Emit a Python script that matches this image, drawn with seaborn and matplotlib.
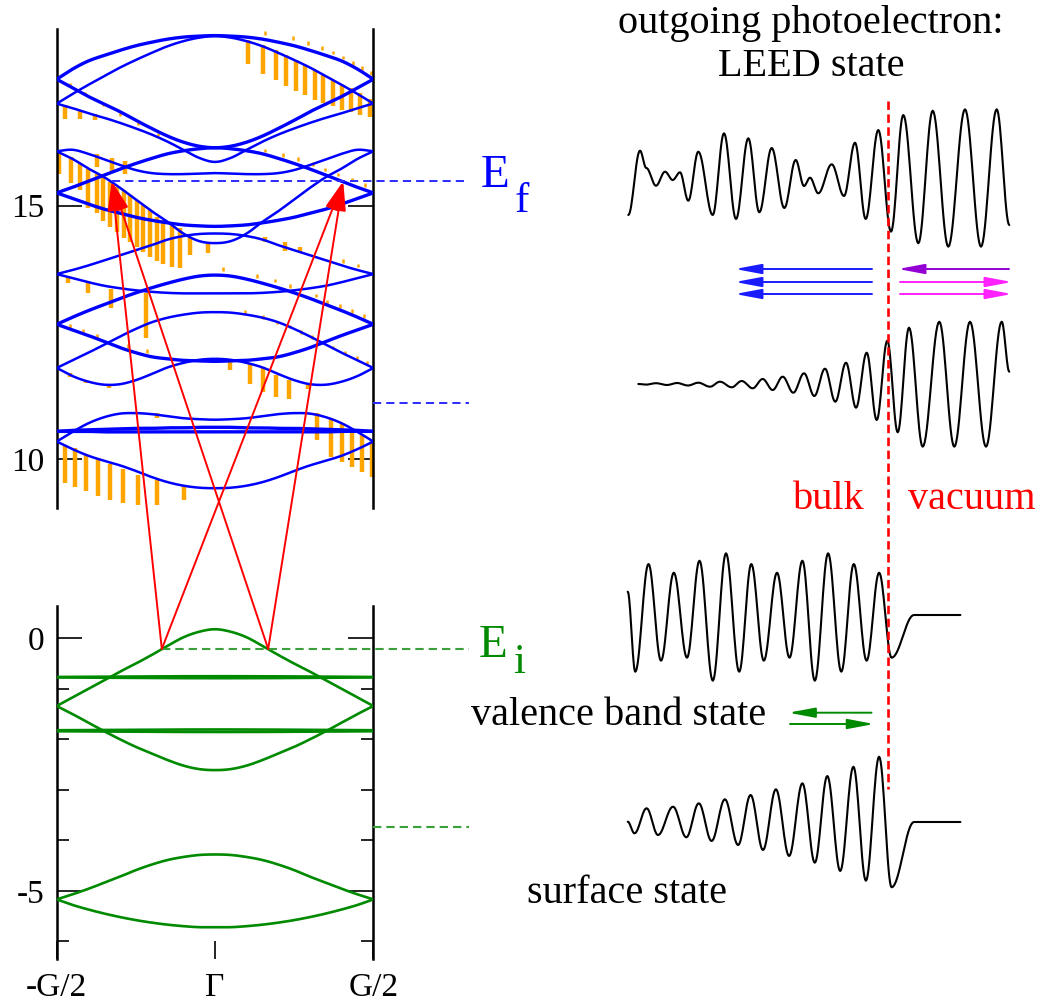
import numpy as np
import pandas as pd
import matplotlib
matplotlib.use("Agg")
import matplotlib.pyplot as plt
from matplotlib.patches import ConnectionPatch
import seaborn as sns

# ---------------------------------------------------------------------------
# Band structure along k_perp (units of G), sampled on half the zone;
# every band is symmetric about Gamma.
# ---------------------------------------------------------------------------
k_half = [0.00, 0.05, 0.10, 0.15, 0.20, 0.25, 0.30, 0.35, 0.40, 0.45, 0.50]

# final-state (unoccupied) bands, eV
band_b1 = [18.35, 18.34, 18.32, 18.28, 18.22, 18.15, 18.06, 17.96, 17.85, 17.69, 17.49]
band_b2 = [18.34, 18.31, 18.24, 18.14, 18.01, 17.87, 17.72, 17.55, 17.38, 17.20, 17.01]
band_b3 = [16.14, 16.17, 16.25, 16.37, 16.52, 16.68, 16.85, 17.00, 17.15, 17.32, 17.49]
band_b4 = [15.86, 15.94, 16.10, 16.26, 16.40, 16.52, 16.63, 16.73, 16.82, 16.92, 17.01]
band_q1 = [15.64, 15.63, 15.62, 15.62, 15.64, 15.70, 15.80, 15.91, 16.02, 16.10, 16.07]
band_q2 = [14.26, 14.30, 14.45, 14.68, 14.89, 15.12, 15.35, 15.56, 15.73, 15.92, 16.07]
band_p1 = [16.14, 16.12, 16.08, 16.02, 15.93, 15.83, 15.72, 15.60, 15.48, 15.36, 15.25]
band_p2 = [14.59, 14.60, 14.62, 14.66, 14.71, 14.77, 14.85, 14.93, 15.03, 15.14, 15.25]
band_r1 = [14.45, 14.44, 14.40, 14.33, 14.22, 14.12, 14.02, 13.92, 13.82, 13.73, 13.65]
band_r2 = [13.27, 13.27, 13.27, 13.28, 13.30, 13.33, 13.37, 13.42, 13.49, 13.57, 13.65]
band_s1 = [13.63, 13.61, 13.55, 13.47, 13.38, 13.28, 13.17, 13.05, 12.93, 12.80, 12.66]
band_s2 = [11.93, 11.94, 11.95, 11.98, 12.02, 12.10, 12.20, 12.32, 12.44, 12.55, 12.66]
band_t1 = [12.90, 12.89, 12.85, 12.79, 12.70, 12.57, 12.42, 12.26, 12.10, 11.95, 11.80]
band_t2 = [11.98, 11.96, 11.90, 11.81, 11.68, 11.56, 11.48, 11.47, 11.53, 11.64, 11.80]
band_u1 = [10.78, 10.79, 10.81, 10.85, 10.89, 10.91, 10.90, 10.83, 10.71, 10.54, 10.35]
band_u2 = [9.43, 9.44, 9.48, 9.55, 9.65, 9.77, 9.88, 9.97, 10.07, 10.20, 10.35]
band_v1 = [10.54, 10.54, 10.54, 10.54, 10.54, 10.54, 10.54, 10.54, 10.55, 10.55, 10.55]
band_v2 = [10.63, 10.63, 10.62, 10.62, 10.61, 10.61, 10.60, 10.59, 10.58, 10.57, 10.55]

# initial-state (valence) bands, eV
band_g1 = [0.18, 0.13, 0.02, -0.15, -0.33, -0.50, -0.66, -0.83, -1.00, -1.17, -1.34]
band_g2 = [-2.61, -2.59, -2.52, -2.41, -2.28, -2.15, -2.00, -1.84, -1.67, -1.50, -1.34]
band_g3a = [-0.750, -0.750, -0.751, -0.752, -0.753, -0.755, -0.757, -0.759, -0.761, -0.763, -0.765]
band_g3b = [-0.790, -0.790, -0.789, -0.788, -0.787, -0.785, -0.783, -0.781, -0.779, -0.777, -0.775]
band_g4a = [-1.805, -1.805, -1.806, -1.807, -1.808, -1.810, -1.812, -1.814, -1.816, -1.818, -1.820]
band_g4b = [-1.855, -1.855, -1.854, -1.853, -1.852, -1.850, -1.848, -1.846, -1.844, -1.842, -1.840]
band_g5 = [-4.28, -4.29, -4.33, -4.39, -4.48, -4.59, -4.72, -4.84, -4.96, -5.07, -5.17]
band_g6 = [-5.72, -5.72, -5.70, -5.67, -5.63, -5.58, -5.52, -5.45, -5.37, -5.28, -5.17]

final_bands = {
    "b1": (band_b1, "thick"), "b2": (band_b2, "thin"), "b3": (band_b3, "thick"),
    "b4": (band_b4, "thin"), "q1": (band_q1, "thin"), "q2": (band_q2, "thin"),
    "p1": (band_p1, "thick"), "p2": (band_p2, "thick"), "r1": (band_r1, "thin"),
    "r2": (band_r2, "thin"), "s1": (band_s1, "thick"), "s2": (band_s2, "thick"),
    "t1": (band_t1, "thin"), "t2": (band_t2, "thin"), "u1": (band_u1, "thin"),
    "u2": (band_u2, "thin"), "v1": (band_v1, "thick"), "v2": (band_v2, "thick"),
}
valence_bands = {
    "g1": band_g1, "g2": band_g2, "g3a": band_g3a, "g3b": band_g3b,
    "g4a": band_g4a, "g4b": band_g4b, "g5": band_g5, "g6": band_g6,
}

# Spectral weight sticks hanging below the final-state bands: k, top, bottom (eV)
bar_k = [0.105, 0.153, 0.192, 0.224, 0.256, 0.284, 0.316, 0.342, 0.372, 0.400, 0.430, 0.458, 0.490,
         -0.474, -0.426, -0.379,
         -0.374, -0.326, -0.284,
         -0.492, -0.455, -0.426, -0.400, -0.374, -0.355, -0.332, -0.311, -0.287, -0.268,
         -0.247, -0.226, -0.205, -0.184, -0.163, -0.137, -0.111, -0.079, -0.021,
         0.158, 0.221, 0.268,
         -0.463, -0.400, -0.328, -0.219,
         0.047, 0.111, 0.153, 0.193, 0.233, 0.293,
         -0.458, -0.407, -0.334, -0.182,
         0.321, 0.365, 0.400, 0.432, 0.463, 0.495,
         -0.474, -0.442, -0.407, -0.371, -0.332, -0.292, -0.242, -0.184, -0.097]
bar_top = [18.26, 18.16, 18.06, 17.96, 17.86, 17.77, 17.67, 17.57, 17.47, 17.37, 17.31, 17.21, 17.11,
           16.98, 16.88, 16.80,
           16.02, 15.93, 15.88,
           16.04, 15.95, 15.84, 15.73, 15.63, 15.57, 15.47, 15.37, 15.31, 15.21,
           15.11, 15.01, 14.91, 14.78, 14.71, 14.65, 14.55, 14.39, 14.29,
           14.39, 14.29, 14.19,
           13.57, 13.47, 13.35, 13.27,
           11.98, 11.89, 11.79, 11.66, 11.56, 11.47,
           11.70, 11.57, 11.48, 10.91,
           10.91, 10.81, 10.71, 10.62, 10.48, 10.38,
           10.29, 10.22, 10.09, 10.00, 9.91, 9.81, 9.70, 9.60, 9.50]
bar_bottom = [17.80, 17.60, 17.47, 17.35, 17.26, 17.18, 17.09, 17.02, 16.96, 16.88, 16.85, 16.78, 16.75,
              16.71, 16.71, 16.68,
              15.77, 15.67, 15.62,
              15.62, 15.45, 15.30, 14.96, 14.85, 14.70, 14.58, 14.47, 14.37, 14.28,
              14.18, 14.08, 13.98, 13.90, 13.84, 13.79, 13.77, 14.03, 14.06,
              14.29, 14.10, 14.09,
              13.48, 13.27, 12.98, 12.39,
              11.76, 11.49, 11.32, 11.22, 11.18, 11.39,
              11.63, 11.50, 11.41, 10.82,
              10.38, 10.05, 9.94, 9.84, 9.75, 9.65,
              9.53, 9.45, 9.37, 9.28, 9.20, 9.14, 9.10, 9.10, 9.20]

# Very small weights, drawn as short stubs at the band energy
stub_k = [0.158, 0.247, 0.295, 0.337, 0.374, 0.405, 0.435, 0.463, 0.492,
          -0.458, -0.410, -0.353, -0.301, -0.243, -0.180,
          0.158, 0.216, 0.263, 0.310, 0.347, 0.389, 0.432, 0.474,
          0.405, 0.453,
          -0.458, -0.416, -0.374, -0.274, -0.216,
          0.026, 0.132, 0.190, 0.237, 0.319, 0.355, 0.395, 0.432, 0.471,
          0.095, 0.153, 0.195, 0.237, 0.271, 0.305, 0.374, 0.411, 0.448, 0.481]
stub_e = [18.39, 18.29, 18.19, 18.09, 18.00, 17.90, 17.80, 17.70, 17.60,
          17.37, 17.19, 16.98, 16.79, 16.60, 16.39,
          16.07, 15.98, 15.90, 15.80, 15.70, 15.60, 15.50, 15.39,
          13.89, 13.80,
          12.61, 12.51, 12.42, 12.22, 12.12,
          13.73, 13.60, 13.51, 13.40, 13.21, 13.09, 13.01, 12.91, 12.81,
          12.89, 12.79, 12.68, 12.60, 12.49, 12.39, 12.19, 12.09, 11.98, 11.88]

# Direct transitions: initial and final energies and k points
e_initial = -0.21
e_final = 15.48
k_initial = [-0.168, 0.168]
k_final = [-0.326, 0.405]
e_leed_level = 11.10
e_surface_level = -3.74

# ---------------------------------------------------------------------------
# Schematic wave functions: extrema positions z (relative to the surface)
# and amplitudes a.
# ---------------------------------------------------------------------------
leed_z = [-259.7, -248.0, -241.7, -232.0, -223.0, -215.3, -208.0, -199.7, -189.7, -175.3,
          -164.0, -152.0, -139.7, -128.7, -116.3, -103.7, -92.3, -84.0, -78.0, -69.7,
          -56.3, -44.0, -33.0, -22.3, -9.7, 3.0, 15.3, 30.3, 44.7, 60.3,
          77.0, 93.0, 108.7, 121.3]
leed_a = [-37.0, 27.3, 10.0, -7.7, 6.3, -2.0, 5.7, -22.7, 26.3, -37.0,
          44.7, -41.0, 39.7, -34.3, 30.0, -30.0, 18.0, -8.0, 0.3, -15.3,
          13.7, -18.0, 35.3, -41.0, 48.0, -53.7, 63.0, -65.3, 67.3, -68.7,
          68.7, -68.7, 68.7, -47.0]

wave_z = [-249.7, -242.0, -232.0, -221.0, -211.0, -200.0, -189.7, -178.0, -168.0, -156.3,
          -146.3, -135.3, -125.3, -115.3, -105.3, -94.7, -84.0, -73.7, -63.0, -52.7,
          -42.0, -32.0, -21.3, -11.3, -0.7, 9.7, 21.0, 34.7, 51.3, 66.3,
          82.0, 98.0, 113.7, 121.3]
wave_a = [0.0, -0.6, 0.8, -1.0, 1.0, -1.5, 1.3, -2.7, 2.3, -3.3,
          3.0, -4.3, 5.0, -6.0, 7.3, -8.7, 10.7, -12.0, 15.3, -17.7,
          21.3, -23.7, 31.3, -36.0, 43.3, -48.3, 56.3, -62.7, 62.3, -62.7,
          62.3, -62.7, 62.3, 12.3]

valence_z = [-260.3, -252.7, -239.5, -227.0, -214.2, -201.0, -188.5, -175.2, -162.0, -148.8,
             -136.7, -124.2, -111.0, -98.5, -85.6, -73.2, -59.9, -46.7, -34.2, -21.4,
             -8.9, 3.6, 26.0, 72.4]
valence_a = [23.3, -56.7, 51.0, -45.7, 42.3, -42.7, 54.3, -65.7, 61.7, -56.7,
             51.0, -45.7, 42.3, -42.7, 54.3, -65.7, 61.7, -56.7, 51.0, -45.7,
             42.3, -42.7, 0.0, 0.0]

surface_z = [-260.3, -253.5, -241.4, -230.0, -215.0, -201.7, -189.2, -176.4, -163.1, -149.9,
             -137.4, -125.0, -112.1, -98.9, -85.6, -73.2, -60.7, -47.8, -34.6, -22.1,
             -8.9, 3.6, 26.0, 72.4]
surface_a = [0.3, -11.3, 13.7, -13.0, 15.3, -15.3, 18.7, -19.0, 22.7, -23.0,
             27.0, -28.0, 32.7, -34.0, 38.7, -40.7, 46.0, -49.0, 55.3, -58.7,
             65.3, -65.3, 0.0, 0.0]

x_tick_labels = ["-G/2", "\u0393", "G/2"]

# ---------------------------------------------------------------------------
# helpers
# ---------------------------------------------------------------------------
def full_zone(values):
    """Mirror half-zone samples onto the full zone -G/2 .. G/2."""
    k = np.array(k_half)
    e = np.array(values, dtype=float)
    return np.concatenate([-k[::-1], k[1:]]), np.concatenate([e[::-1], e[1:]])


def smooth_curve(x, y, n=10):
    """Catmull-Rom spline through the sampled points (for drawing only)."""
    x = np.asarray(x, float)
    y = np.asarray(y, float)
    xp = np.concatenate([[2 * x[0] - x[1]], x, [2 * x[-1] - x[-2]]])
    yp = np.concatenate([[2 * y[0] - y[1]], y, [2 * y[-1] - y[-2]]])
    t = np.linspace(0, 1, n, endpoint=False)
    xs, ys = [], []
    for i in range(1, len(x)):
        for arr, out in ((xp, xs), (yp, ys)):
            p0, p1, p2, p3 = arr[i - 1], arr[i], arr[i + 1], arr[i + 2]
            out.append(0.5 * (2 * p1 + (-p0 + p2) * t
                              + (2 * p0 - 5 * p1 + 4 * p2 - p3) * t ** 2
                              + (-p0 + 3 * p1 - 3 * p2 + p3) * t ** 3))
    xs.append([x[-1]])
    ys.append([y[-1]])
    return np.concatenate(xs), np.concatenate(ys)


def wave_curve(z, a, n=16):
    """Join successive extrema with half-cosine arcs."""
    zs, as_ = [], []
    t = np.linspace(0, 1, n, endpoint=False)
    for i in range(len(z) - 1):
        zs.append(z[i] + (z[i + 1] - z[i]) * t)
        as_.append(a[i] + (a[i + 1] - a[i]) * (1 - np.cos(np.pi * t)) / 2)
    zs.append([z[-1]])
    as_.append([a[-1]])
    return np.concatenate(zs), np.concatenate(as_)


# ---------------------------------------------------------------------------
# figure
# ---------------------------------------------------------------------------
sns.set_theme(style="white")
plt.rcParams["font.family"] = ["Liberation Serif", "DejaVu Serif"]
plt.rcParams["axes.unicode_minus"] = False

W, H = 1043, 1008
fig = plt.figure(figsize=(W / 100, H / 100), dpi=100)
fig.patch.set_facecolor("white")

ax_up = fig.add_axes([56.7 / W, 1 - 508 / H, 316.6 / W, 479 / H])
ax_lo = fig.add_axes([56.7 / W, 1 - 959 / H, 316.6 / W, 353 / H])

BLUE = "#0000ff"
GREEN = "#008a00"
ORANGE = "#ffa500"
RED = "#ff0000"

# --- final-state bands -----------------------------------------------------
rows = []
for name, (vals, weight) in final_bands.items():
    kk, ee = smooth_curve(*full_zone(vals))
    rows.append(pd.DataFrame({"k": kk, "E": ee, "band": name, "weight": weight}))
df_final = pd.concat(rows, ignore_index=True)
sns.lineplot(data=df_final, x="k", y="E", units="band", estimator=None, sort=False,
             size="weight", sizes={"thick": 2.4, "thin": 1.8}, color=BLUE,
             legend=False, ax=ax_up, zorder=3)

ax_up.vlines(bar_k, bar_bottom, bar_top, color=ORANGE, lw=3.2, zorder=2)
ax_up.vlines(stub_k, np.array(stub_e) - 0.02, np.array(stub_e) + 0.05,
             color=ORANGE, lw=1.8, zorder=2)

# --- valence bands -----------------------------------------------------------
rows = []
for name, vals in valence_bands.items():
    kk, ee = smooth_curve(*full_zone(vals))
    rows.append(pd.DataFrame({"k": kk, "E": ee, "band": name}))
df_val = pd.concat(rows, ignore_index=True)
sns.lineplot(data=df_val, x="k", y="E", units="band", estimator=None, sort=False,
             color=GREEN, lw=1.9, legend=False, ax=ax_lo, zorder=3)

# --- axes styling ------------------------------------------------------------
ax_up.set_xlim(-0.5, 0.5)
ax_up.set_ylim(9.04, 18.48)
ax_lo.set_xlim(-0.5, 0.5)
ax_lo.set_ylim(-6.35, 0.64)

for ax in (ax_up, ax_lo):
    ax.set_facecolor("none")
    ax.set_xlabel("")
    ax.set_ylabel("")
    for side in ("top", "bottom"):
        ax.spines[side].set_visible(False)
    for side in ("left", "right"):
        ax.spines[side].set_color("black")
        ax.spines[side].set_linewidth(1.8)
    ax.tick_params(axis="y", which="major", direction="in", length=18, width=1.2,
                   left=True, right=True, labelleft=True, labelright=False,
                   labelsize=24, pad=9, color="black", labelcolor="black")

ax_up.set_yticks([10, 15], labels=["10", "15"])
ax_up.set_xticks([])

ax_lo.set_yticks([-5, 0], labels=["-5", "0"])
ax_lo.set_yticks([-6, -4, -3, -2, -1], minor=True)
ax_lo.tick_params(axis="y", which="minor", direction="in", length=8.6, width=1.2,
                  left=True, right=True, color="black")
ax_lo.set_xticks([-0.5, 0.0, 0.5], labels=x_tick_labels)
ax_lo.tick_params(axis="x", which="major", direction="in", length=13, width=1.2,
                  bottom=True, top=False, labelsize=24, pad=10, color="black",
                  labelcolor="black")

# --- energy levels -----------------------------------------------------------
k_label_edge = 0.802
ax_up.plot([k_final[0], k_label_edge], [e_final, e_final], color="#2a2aff", lw=1.4,
           ls=(0, (4.2, 2.6)), clip_on=False, zorder=4)
ax_up.plot([0.5, k_label_edge], [e_leed_level, e_leed_level], color="#2a2aff", lw=1.4,
           ls=(0, (4.2, 2.6)), clip_on=False, zorder=4)
ax_lo.plot([k_initial[0], k_label_edge], [e_initial, e_initial], color="#3aa03a", lw=1.5,
           ls=(0, (4.0, 2.4)), clip_on=False, zorder=4)
ax_lo.plot([0.5, k_label_edge], [e_surface_level, e_surface_level], color="#3aa03a", lw=1.5,
           ls=(0, (4.0, 2.4)), clip_on=False, zorder=4)

# --- transitions -------------------------------------------------------------
for k0 in k_initial:
    for k1 in k_final:
        con = ConnectionPatch(xyA=(k0, e_initial), coordsA=ax_lo.transData,
                              xyB=(k1, e_final), coordsB=ax_up.transData,
                              arrowstyle="-|>,head_length=1.8,head_width=0.45",
                              mutation_scale=10, color=RED, lw=1.4,
                              shrinkA=0, shrinkB=0, zorder=6)
        fig.add_artist(con)

# --- level labels ------------------------------------------------------------
fig.text(481 / W, 1 - 187 / H, "E", color=BLUE, fontsize=34, va="baseline", ha="left")
fig.text(515 / W, 1 - 212 / H, "f", color=BLUE, fontsize=31, va="baseline", ha="left")
fig.text(479 / W, 1 - 657 / H, "E", color=GREEN, fontsize=34, va="baseline", ha="left")
fig.text(513 / W, 1 - 673 / H, "i", color=GREEN, fontsize=31, va="baseline", ha="left")

# ---------------------------------------------------------------------------
# wave-function sketches (x: distance from the surface)
# ---------------------------------------------------------------------------
x0 = 590
surface_px = 888
ax_w = fig.add_axes([x0 / W, 0, (W - x0) / W, 1])
ax_w.set_xlim(x0 - surface_px, W - surface_px)
ax_w.set_ylim(0, H)
ax_w.axis("off")
ax_w.patch.set_alpha(0)

for z, a, base in ((leed_z, leed_a, H - 178), (wave_z, wave_a, H - 384),
                   (valence_z, valence_a, H - 615), (surface_z, surface_a, H - 822)):
    zz, aa = wave_curve(z, a)
    sns.lineplot(x=zz, y=base + aa, sort=False, estimator=None, color="black",
                 lw=1.5, ax=ax_w)

ax_w.plot([0, 0], [H - 101, H - 789], color=RED, lw=1.9, ls=(0, (3.2, 1.7)))


def arrow(tail, tip, y, color, lw=1.4):
    ax_w.annotate("", xy=(tip, y), xytext=(tail, y),
                  arrowprops=dict(arrowstyle="-|>,head_length=1.6,head_width=0.3",
                                  mutation_scale=10, color=color, lw=lw,
                                  shrinkA=0, shrinkB=0))


for y in (H - 269, H - 282, H - 294):
    arrow(-16, -153, y, "#1a1aff")
arrow(121, 10, H - 269, "#9400d3")
for y in (H - 282, H - 294):
    arrow(12, 124, y, "#ff22ff")
arrow(-16.5, -99.6, H - 712.7, GREEN)
arrow(-98, -13.8, H - 724, GREEN)

# --- captions ------------------------------------------------------------------
fig.text(811 / W, 1 - 33 / H, "outgoing photoelectron:", ha="center", va="baseline",
         fontsize=29, color="black")
fig.text(811 / W, 1 - 76 / H, "LEED state", ha="center", va="baseline",
         fontsize=29, color="black")
fig.text(793 / W, 1 - 509 / H, "bulk", ha="left", va="baseline", fontsize=29, color=RED)
fig.text(908 / W, 1 - 509 / H, "vacuum", ha="left", va="baseline", fontsize=29, color=RED)
fig.text(471 / W, 1 - 725 / H, "valence band state", ha="left", va="baseline",
         fontsize=29, color="black")
fig.text(527 / W, 1 - 903 / H, "surface state", ha="left", va="baseline",
         fontsize=29, color="black")

fig.savefig("out.png", dpi=100)
